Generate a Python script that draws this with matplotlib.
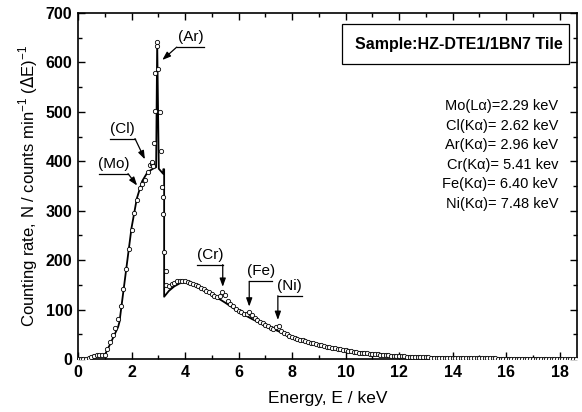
import numpy as np
import matplotlib.pyplot as plt
from matplotlib.ticker import MultipleLocator
from matplotlib.patches import Rectangle

plt.rcParams['font.family'] = ['Liberation Sans', 'DejaVu Sans']

# measured spectrum, 0.1 keV channels below the Ar peak
low_e = np.round(np.arange(0.0, 2.75, 0.1), 2)
low_n = [1, 1, 1, 1, 2, 5, 7, 8, 8, 8,
         9, 20, 34, 48, 62, 80, 108, 142, 182, 222,
         262, 295, 322, 345, 355, 362, 378, 392]

# points around the Ar(Ka) peak
peak_e = [2.75, 2.78, 2.82, 2.84, 2.88, 2.89, 2.94, 2.95, 2.98, 3.06,
          3.09, 3.13, 3.17, 3.19, 3.23, 3.28]
peak_n = [395, 398, 390, 438, 502, 578, 641, 633, 586, 500,
          420, 349, 328, 293, 216, 178]

# measured spectrum above the Ar absorption edge, 0.1 keV channels
high_e = np.round(np.arange(3.3, 18.65, 0.1), 2)
high_n = [150, 148, 151, 154, 157, 158, 158,
          157, 156, 154, 152, 150, 147, 144, 141, 138, 135,
          131, 128, 125, 127, 135, 130, 117, 112, 107, 102,
          98, 95, 92, 91, 96, 89, 82, 78, 75, 72,
          69, 66, 63, 60, 64, 67, 57, 53, 50, 47,
          45, 43, 41, 39, 38, 36, 35, 33, 32, 30,
          29, 28, 26, 25, 24, 23, 22, 21, 20, 19,
          18, 17, 16, 15, 14, 13, 13, 12, 12, 11,
          11, 10, 10, 9, 9, 8, 8, 7, 7, 7,
          6, 6, 6, 5, 5, 5, 5, 4, 4, 4,
          4, 4, 3, 3, 3, 3, 3, 3, 3, 3,
          3, 2, 2, 2, 2, 2, 2, 2, 2, 2,
          2, 2, 2, 2, 2, 2, 2, 1, 1, 1,
          1, 1, 1, 1, 1, 1, 1, 1, 1, 1,
          1, 1, 1, 1, 1, 1, 1, 1, 1, 1,
          1, 1, 1, 1, 1, 1, 1]

# calculated spectrum (solid line)
fit_e = [0, 0.5, 0.55, 1.0, 1.2, 1.5, 1.55, 2.0, 2.2, 2.4, 2.6, 2.8, 2.92,
         2.96, 3.02, 3.18, 3.19, 3.22, 3.22, 3.4, 3.6, 3.8, 4.0, 4.5, 5.0,
         5.5, 6.0, 6.5, 7.0, 7.5, 8.0, 8.5, 9.0, 10, 11, 12, 13, 14, 16, 18.65]
fit_n = [0, 0, 7, 8, 30, 65, 75, 265, 325, 360, 378, 385, 388,
         641, 385, 375, 384, 384, 126, 138, 147, 153, 156, 147, 131,
         114, 96, 81, 68, 56, 45, 37, 29, 17, 11, 6, 4, 2.5, 1, 0.5]

# peak labels: text, underline start/end energy, underline height, arrow tip
labels = ['(Mo)', '(Cl)', '(Ar)', '(Cr)', '(Fe)', '(Ni)']
line_x0 = [0.79, 1.20, 3.69, 4.45, 6.40, 7.47]
line_x1 = [1.87, 2.13, 4.71, 5.41, 7.25, 8.36]
line_y = [375, 446, 631, 191, 157, 128]
tip_x = [2.21, 2.50, 3.15, 5.41, 6.40, 7.47]
tip_y = [351, 404, 605, 146, 106, 79]
arrow_from = ['x1', 'x1', 'x0', 'x1', 'x0', 'x0']

lines_text = ['Mo(L\u03b1)=2.29 keV', 'Cl(K\u03b1)= 2.62 keV', 'Ar(K\u03b1)= 2.96 keV',
              'Cr(K\u03b1)= 5.41 kev', 'Fe(K\u03b1)= 6.40 keV', 'Ni(K\u03b1)= 7.48 keV']

fig = plt.figure(figsize=(5.82, 4.12), dpi=100)
ax = fig.add_axes([0.134, 0.1286, 0.8574, 0.8398])

ax.plot(fit_e, fit_n, color='black', lw=1.3, zorder=2)
circ = dict(ls='none', marker='o', ms=3.1, mfc='white', mec='black', mew=0.6, zorder=3)
ax.plot(low_e, low_n, **circ)
ax.plot(peak_e, peak_n, **circ)
ax.plot(high_e, high_n, **circ)

for i in range(len(labels)):
    ax.plot([line_x0[i], line_x1[i]], [line_y[i], line_y[i]], color='black', lw=0.9)
    ax.text((line_x0[i] + line_x1[i]) / 2, line_y[i] + 6, labels[i],
            ha='center', va='bottom', fontsize=11)
    sx = line_x1[i] if arrow_from[i] == 'x1' else line_x0[i]
    ax.annotate('', xy=(tip_x[i], tip_y[i]), xytext=(sx, line_y[i]),
                arrowprops=dict(arrowstyle='-|>,head_length=0.5,head_width=0.18',
                                color='black', lw=0.9, shrinkA=0, shrinkB=0))

ax.add_patch(Rectangle((0.529, 0.853), 0.455, 0.115, transform=ax.transAxes,
                       fc='white', ec='black', lw=0.9, zorder=4))
ax.text(0.972, 0.910, 'Sample:HZ-DTE1/1BN7 Tile', transform=ax.transAxes,
        ha='right', va='center', fontsize=11.5, fontweight='bold', zorder=5)

for i, t in enumerate(lines_text):
    ax.text(0.962, 0.731 - i * 0.0566, t, transform=ax.transAxes,
            ha='right', va='center', fontsize=10.5)

ax.set_xlim(0, 18.65)
ax.set_ylim(0, 700)
ax.xaxis.set_major_locator(MultipleLocator(2))
ax.xaxis.set_minor_locator(MultipleLocator(1))
ax.yaxis.set_major_locator(MultipleLocator(100))
ax.yaxis.set_minor_locator(MultipleLocator(50))
ax.tick_params(which='both', direction='in', top=True, right=True, width=1)
ax.tick_params(which='major', length=5, labelsize=11.5, pad=4)
ax.tick_params(which='minor', length=3)
for lab in ax.get_xticklabels() + ax.get_yticklabels():
    lab.set_fontweight('bold')
for s in ax.spines.values():
    s.set_linewidth(1.2)

ax.set_xlabel('Energy, E / keV', fontsize=12.5, labelpad=8)
ax.set_ylabel('Counting rate, N / counts min$^{\\mathregular{-1}}$ ($\\Delta$E)$^{\\mathregular{-1}}$',
              fontsize=12, labelpad=4)

fig.savefig('out.png', dpi=100)
